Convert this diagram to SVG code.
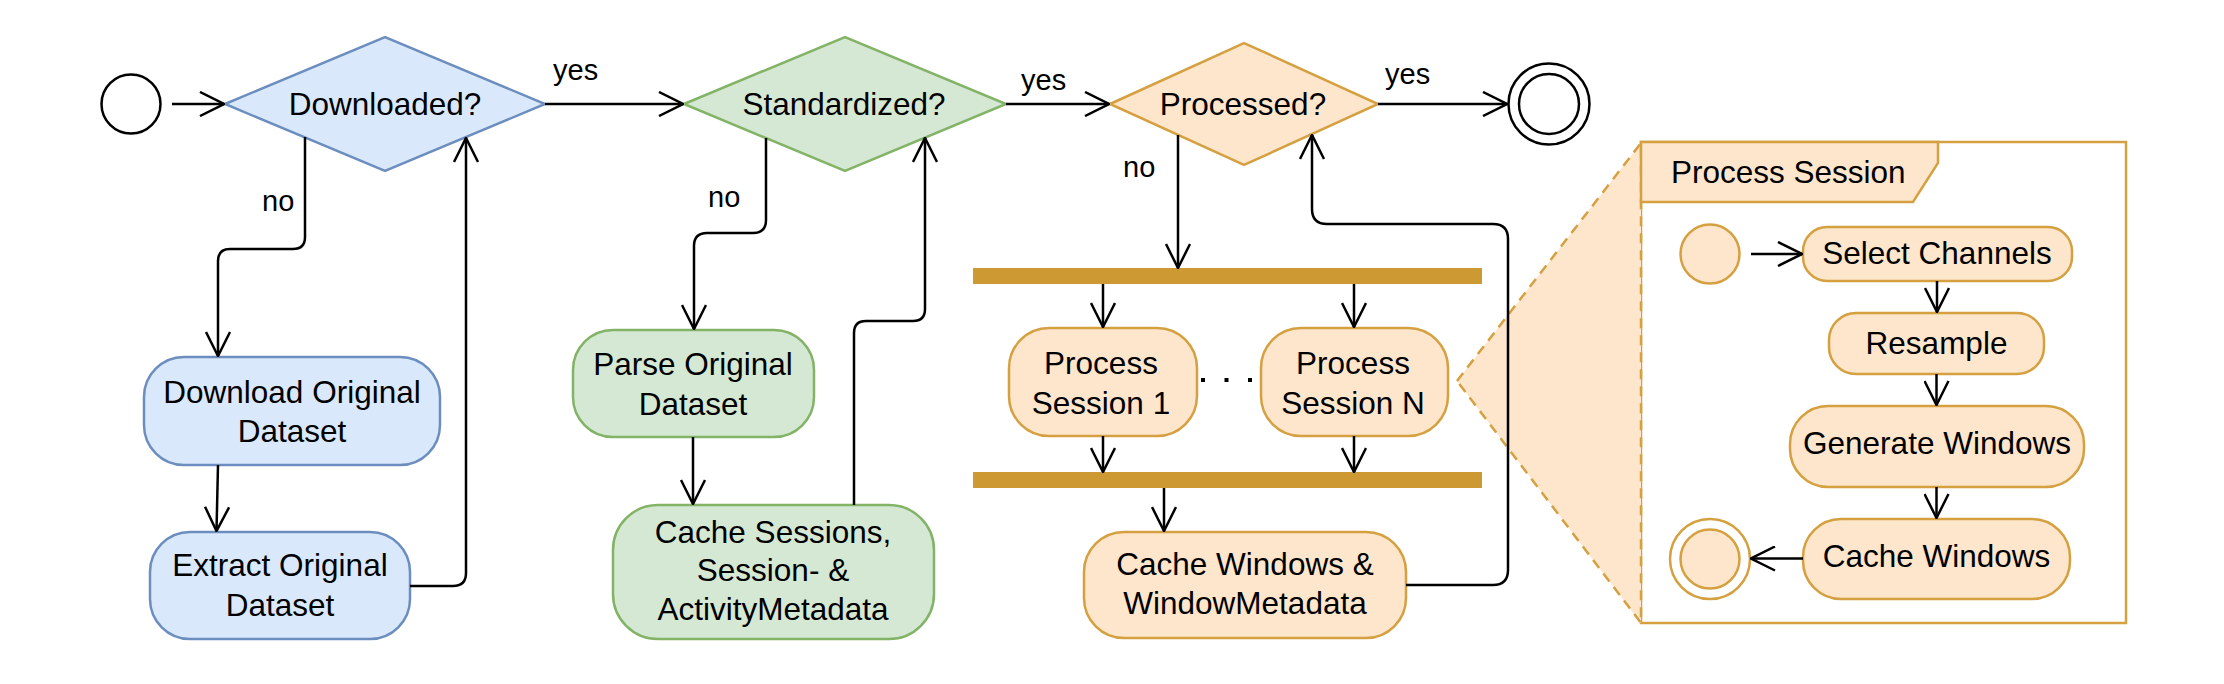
<svg xmlns="http://www.w3.org/2000/svg" width="2224" height="684" viewBox="0 0 2224 684">
<defs>
<marker id="arr" viewBox="0 0 26 26" refX="25" refY="13" markerWidth="26" markerHeight="26" orient="auto" markerUnits="userSpaceOnUse">
<path d="M1,1 L25,13 L1,25" fill="none" stroke="#000" stroke-width="2.5"/>
</marker>
<style>
text{font-family:"Liberation Sans",Arial,Helvetica,sans-serif;fill:#000}
.t{font-size:31.5px;text-anchor:middle}
.lbl{font-size:29px}
.blue{fill:#dae8fc;stroke:#6c8ebf;stroke-width:2.5}
.green{fill:#d5e8d4;stroke:#82b366;stroke-width:2.5}
.orange{fill:#fde6cc;stroke:#d5a040;stroke-width:2.5}
.bar{fill:#cc9933}
.c{fill:none;stroke:#000;stroke-width:2.5;marker-end:url(#arr)}
.ring{fill:#fff;stroke:#000;stroke-width:2.5}
</style>
</defs>
<rect width="2224" height="684" fill="#fff"/>

<g id="zoom-callout">
<rect x="1641" y="142" width="485" height="481" fill="#fff" stroke="#d5a040" stroke-width="2.5"/>
<polygon points="1457,381 1641,143 1641,623" fill="#fde6cc" stroke="#d5a040" stroke-width="2.5" stroke-dasharray="10 7"/>
</g>

<g id="start">
<circle cx="131" cy="104" r="29.5" class="ring"/>
</g>
<g id="downloaded">
<polygon points="225,104 385,37 545,104 385,171" class="blue"/>
<text class="t" x="385" y="114.5">Downloaded?</text>
</g>
<g id="download-original">
<rect x="144" y="357" width="296" height="108" rx="40" class="blue"/>
<text class="t" x="292" y="402.5">Download Original</text>
<text class="t" x="292" y="441.5">Dataset</text>
</g>
<g id="extract-original">
<rect x="150" y="532" width="260" height="107" rx="40" class="blue"/>
<text class="t" x="280" y="576">Extract Original</text>
<text class="t" x="280" y="616">Dataset</text>
</g>
<g id="standardized">
<polygon points="684,104 845,37 1006,104 845,171" class="green"/>
<text class="t" x="844" y="114.5">Standardized?</text>
</g>
<g id="parse-original">
<rect x="573" y="330" width="241" height="107" rx="40" class="green"/>
<text class="t" x="693" y="375">Parse Original</text>
<text class="t" x="693" y="415">Dataset</text>
</g>
<g id="cache-sessions">
<rect x="613" y="505" width="321" height="134" rx="45" class="green"/>
<text class="t" x="773" y="543">Cache Sessions,</text>
<text class="t" x="773" y="581">Session- &amp;</text>
<text class="t" x="773" y="620">ActivityMetadata</text>
</g>
<g id="processed">
<polygon points="1110,104 1244,43 1378,104 1244,165" class="orange"/>
<text class="t" x="1243" y="114.5">Processed?</text>
</g>
<g id="end">
<circle cx="1549" cy="104" r="40.5" class="ring"/>
<circle cx="1549" cy="104" r="30" class="ring"/>
</g>
<g id="fork">
<rect x="973" y="268" width="509" height="16" class="bar"/>
</g>
<g id="process-session-1">
<rect x="1009" y="328" width="188" height="108" rx="40" class="orange"/>
<text class="t" x="1101" y="373.5">Process</text>
<text class="t" x="1101" y="413.5">Session 1</text>
</g>
<g id="process-session-n">
<rect x="1261" y="328" width="187" height="108" rx="40" class="orange"/>
<text class="t" x="1353" y="373.5">Process</text>
<text class="t" x="1353" y="413.5">Session N</text>
</g>
<g id="join">
<rect x="973" y="472" width="509" height="16" class="bar"/>
</g>
<g id="cache-windows-main">
<rect x="1084" y="532" width="322" height="106" rx="40" class="orange"/>
<text class="t" x="1245" y="575">Cache Windows &amp;</text>
<text class="t" x="1245" y="614">WindowMetadata</text>
</g>

<g id="process-session-frame">
<polygon points="1641,142 1938,142 1938,163 1913,202 1641,202" class="orange"/>
<text style="font-size:31.5px" x="1671" y="183">Process Session</text>
</g>
<g id="inner-start">
<circle cx="1710" cy="254" r="29.5" class="orange"/>
</g>
<g id="select-channels">
<rect x="1803" y="227" width="269" height="54" rx="24" class="orange"/>
<text class="t" x="1937" y="263.5">Select Channels</text>
</g>
<g id="resample">
<rect x="1829" y="313" width="215" height="61" rx="27" class="orange"/>
<text class="t" x="1936.5" y="353.5">Resample</text>
</g>
<g id="generate-windows">
<rect x="1790" y="406" width="294" height="81" rx="38" class="orange"/>
<text class="t" x="1937" y="453.5">Generate Windows</text>
</g>
<g id="cache-windows">
<rect x="1803" y="519" width="267" height="80" rx="38" class="orange"/>
<text class="t" x="1936.5" y="567">Cache Windows</text>
</g>
<g id="inner-end">
<circle cx="1710" cy="559" r="40" fill="#fff" stroke="#d5a040" stroke-width="2.5"/>
<circle cx="1710" cy="559" r="29.5" class="orange"/>
</g>

<g id="connectors">
<path class="c" d="M172,104 L224,104"/>
<path class="c" d="M545,104 L683,104"/>
<text class="lbl" x="553" y="80">yes</text>
<path class="c" d="M305,137 L305,237 Q305,249 293,249 L230,249 Q218,249 218,261 L218,356"/>
<text class="lbl" x="262" y="210.5">no</text>
<path class="c" d="M218,465 L216.5,531"/>
<path class="c" d="M410,586 L453,586 Q466,586 466,573 L466,138"/>
<path class="c" d="M1006,104 L1109,104"/>
<text class="lbl" x="1021" y="90">yes</text>
<path class="c" d="M766,138 L766,220 Q766,233 753,233 L707,233 Q694,233 694,246 L694,329"/>
<text class="lbl" x="708" y="206.5">no</text>
<path class="c" d="M693,437 L693,504"/>
<path class="c" d="M854,505 L854,333 Q854,321 866,321 L913,321 Q925,321 925,309 L925,138"/>
<path class="c" d="M1378,104 L1507,104"/>
<text class="lbl" x="1385" y="84">yes</text>
<path class="c" d="M1178,135 L1178,268"/>
<text class="lbl" x="1123" y="176.5">no</text>
<path class="c" d="M1103,284 L1103,327"/>
<path class="c" d="M1354,284 L1354,327"/>
<path class="c" d="M1103,436 L1103,472"/>
<path class="c" d="M1354,436 L1354,472"/>
<path class="c" d="M1164,488 L1164,531"/>
<path class="c" d="M1406,585 L1493,585 Q1508,585 1508,570 L1508,239 Q1508,224 1493,224 L1327,224 Q1312,224 1312,209 L1312,135"/>
<path d="M1201,380 L1252,380" fill="none" stroke="#000" stroke-width="4" stroke-dasharray="4 19.5"/>
<path class="c" d="M1751,254 L1802,254"/>
<path class="c" d="M1937,281 L1937,312"/>
<path class="c" d="M1936.5,374 L1936.5,405"/>
<path class="c" d="M1936.5,487 L1936.5,518"/>
<path class="c" d="M1803,558.5 L1751,558.5"/>
</g>
</svg>
